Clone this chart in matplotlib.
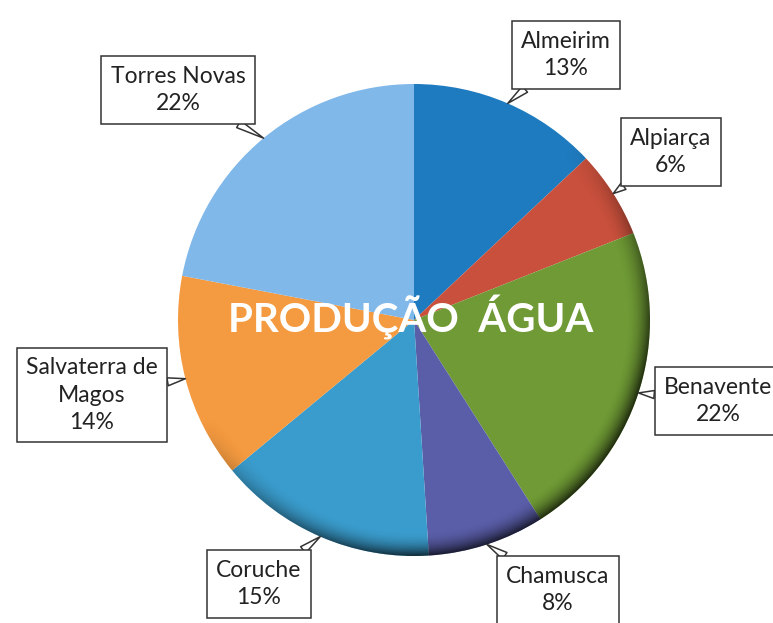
import numpy as np
import matplotlib.pyplot as plt
from matplotlib.patches import Circle

# data
concelhos = ['Almeirim', 'Alpiarça', 'Benavente', 'Chamusca', 'Coruche',
             'Salvaterra de\nMagos', 'Torres Novas']
percent = [13, 6, 22, 8, 15, 14, 22]
cores = ['#1f7bbf', '#c8503c', '#6f9a35', '#5a5ea8', '#3a9ccc', '#f49a40', '#80b8ea']
titulo = 'PRODUÇÃO  ÁGUA'

# label box centres in pixel space (layout only)
label_pos = [(566, 568), (671, 471), (718, 222), (558, 33), (259, 39), (92, 228), (178, 533)]

W, H = 773, 623
cx, cy, R = 414, 303, 236

fig = plt.figure(figsize=(W / 100, H / 100), dpi=100)
ax = fig.add_axes([0, 0, 1, 1])

wedges, _ = ax.pie(percent, colors=cores, startangle=90, counterclock=False,
                   center=(cx, cy), radius=R, frame=True,
                   wedgeprops=dict(linewidth=0))
ax.set_xlim(0, W)
ax.set_ylim(0, H)
ax.set_aspect('equal')
ax.axis('off')

# rim shading, darker towards the lower right
xs = np.linspace(cx - R, cx + R, 400)
ys = np.linspace(cy - R, cy + R, 400)
X, Y = np.meshgrid(xs, ys)
dx, dy = (X - cx) / R, (Y - cy) / R
r = np.hypot(dx, dy)
side = np.clip((dx * 0.6 - dy * 0.8) / np.maximum(r, 1e-6) + 0.2, 0, 1)
rim = np.clip((r - 0.9) / 0.1, 0, 1) ** 2
shade = np.zeros(X.shape + (4,))
shade[..., 3] = rim * side * 0.7
img = ax.imshow(shade, extent=(cx - R, cx + R, cy - R, cy + R), origin='lower',
                zorder=3, interpolation='bilinear')
clip = Circle((cx, cy), R, transform=ax.transData)
img.set_clip_path(clip)

ax.text(cx - 3, cy + 3, titulo, color='white', fontsize=29, fontweight='bold',
        family='Lato', ha='center', va='center', zorder=5)

for w, nome, p, pos in zip(wedges, concelhos, percent, label_pos):
    ang = np.deg2rad((w.theta1 + w.theta2) / 2)
    tip = (cx + R * np.cos(ang), cy + R * np.sin(ang))
    ax.annotate(f'{nome}\n{p}%', xy=tip, xytext=pos, ha='center', va='center',
                fontsize=16.5, family='Lato', color='#222222', linespacing=1.4,
                bbox=dict(boxstyle='square,pad=0.4', fc='white', ec='#333333', lw=1.1),
                arrowprops=dict(arrowstyle='wedge,tail_width=0.35,shrink_factor=0.5',
                                fc='white', ec='#333333', lw=1.1, shrinkA=0, shrinkB=0),
                zorder=6)

fig.savefig('out.png', dpi=100)
